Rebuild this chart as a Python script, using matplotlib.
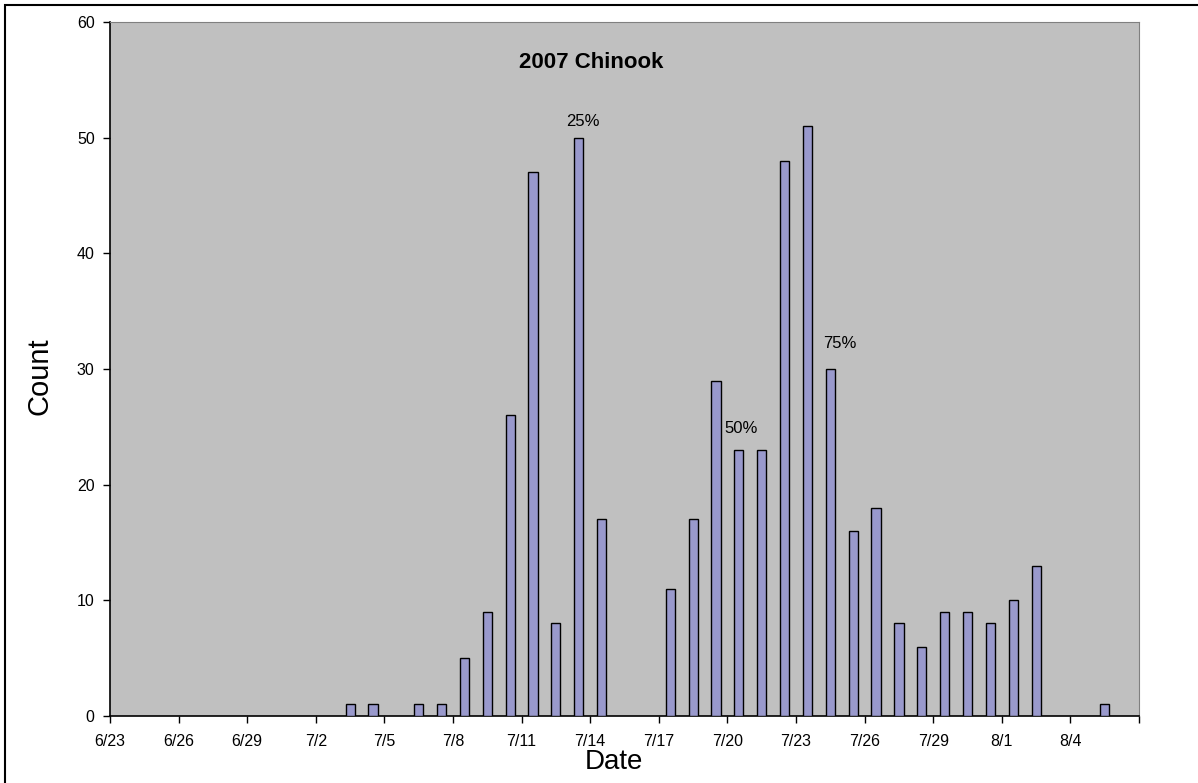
import datetime as dt
import matplotlib
matplotlib.use("Agg")
import matplotlib.pyplot as plt
from matplotlib.patches import Rectangle

plt.rcParams['font.family'] = ['Liberation Sans', 'DejaVu Sans']

# data (2007, only days with fish)
bar_dates = ["7/3", "7/4", "7/6", "7/7", "7/8", "7/9", "7/10", "7/11", "7/12", "7/13",
             "7/14", "7/17", "7/18", "7/19", "7/20", "7/21", "7/22", "7/23", "7/24",
             "7/25", "7/26", "7/27", "7/28", "7/29", "7/30", "7/31", "8/1", "8/2", "8/5"]
counts = [1, 1, 1, 1, 5, 9, 26, 47, 8, 50,
          17, 11, 17, 29, 23, 23, 48, 51, 30,
          16, 18, 8, 6, 9, 9, 8, 10, 13, 1]
# cumulative passage markers
pct_dates = ["7/13", "7/20", "7/24"]
pct_labels = ["25%", "50%", "75%"]

axis_start = "6/23"
axis_end = "8/7"
tick_step = 3

def to_date(s):
    m, d = s.split("/")
    return dt.datetime(2007, int(m), int(d))

x = [to_date(s) + dt.timedelta(hours=12) for s in bar_dates]

fig = plt.figure(figsize=(11.98, 7.83), dpi=100)
ax = fig.add_axes([0.0918, 0.0856, 0.8590, 0.8863])
ax.set_facecolor("#C0C0C0")

ax.bar(x, counts, width=0.4, color="#9999CC", edgecolor="black", linewidth=1.0, zorder=3)

# label offsets in points (where the labels sit in the original)
offsets = [(3, 6.5), (1.5, 10), (7, 13)]
for d, lab, off in zip(pct_dates, pct_labels, offsets):
    i = bar_dates.index(d)
    ax.annotate(lab, (x[i], counts[i]), xytext=off, textcoords="offset points",
                ha="center", va="bottom", fontsize=12)

ax.set_xlim(to_date(axis_start), to_date(axis_end))
ax.set_ylim(0, 60)
ax.set_yticks(range(0, 61, 10))
ticks = [to_date(axis_start) + dt.timedelta(days=k) for k in range(0, 46, tick_step)]
ax.set_xticks(ticks)
ax.set_xticklabels([f"{t.month}/{t.day}" for t in ticks[:-1]] + [""])
ax.tick_params(axis="both", labelsize=11.5, direction="out", length=5, width=1, colors="black")
ax.tick_params(axis="x", pad=8)
ax.tick_params(axis="y", pad=6)

for s in ("top", "right"):
    ax.spines[s].set_color("#808080")
for s in ("left", "bottom"):
    ax.spines[s].set_color("black")
    ax.spines[s].set_linewidth(1.2)

ax.text(0.468, 0.941, "2007 Chinook", transform=ax.transAxes, ha="center", va="center",
        fontsize=16, fontweight="bold")
ax.text(-0.068, 0.49, "Count", transform=ax.transAxes, ha="center", va="center",
        rotation=90, fontsize=21)
ax.text(0.49, -0.066, "Date", transform=ax.transAxes, ha="center", va="center",
        fontsize=20)

# chart border
fig.patches.append(Rectangle((0.004, -0.01), 1.1, 1.0 - 0.004 + 0.01 - 0.0025,
                             transform=fig.transFigure, fill=False, edgecolor="black",
                             linewidth=1.5))

fig.savefig("out.png", dpi=100)
